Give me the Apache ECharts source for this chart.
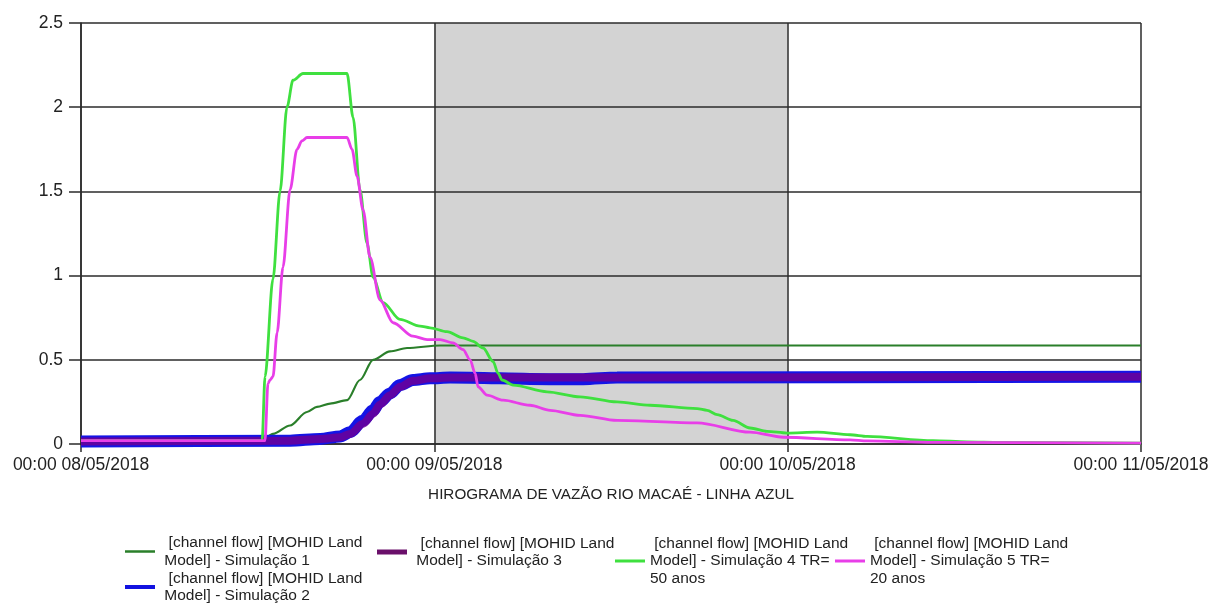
<!DOCTYPE html>
<html>
<head>
<meta charset="utf-8">
<title>Hirograma de vazão - Rio Macaé</title>
<script src="https://cdn.jsdelivr.net/npm/echarts@6/dist/echarts.min.js"></script>
<style>
  html, body { margin: 0; padding: 0; background: #ffffff; }
  #chart { width: 1213px; height: 605px; }
</style>
</head>
<body>
<div id="chart"></div>
<script>
// Time is counted in hours from 00:00 08/05/2018; flow values per simulation.
const dayTickLabels = ['00:00 08/05/2018', '00:00 09/05/2018', '00:00 10/05/2018', '00:00 11/05/2018'];
const axisTitle = 'HIROGRAMA DE VAZÃO RIO MACAÉ - LINHA AZUL';

const seriesNames = [
  '[channel flow] [MOHID Land Model] - Simulação 1',
  '[channel flow] [MOHID Land Model] - Simulação 2',
  '[channel flow] [MOHID Land Model] - Simulação 3',
  '[channel flow] [MOHID Land Model] - Simulação 4 TR= 50 anos',
  '[channel flow] [MOHID Land Model] - Simulação 5 TR= 20 anos'
];
const legendLabels = [
  '  [channel flow] [MOHID Land\n Model] - Simulação 1',
  '  [channel flow] [MOHID Land\n Model] - Simulação 2',
  '  [channel flow] [MOHID Land\n Model] - Simulação 3',
  ' [channel flow] [MOHID Land\nModel] - Simulação 4 TR=\n50 anos',
  ' [channel flow] [MOHID Land\nModel] - Simulação 5 TR=\n20 anos'
];

// Simulação 1
const sim1Hours = [0, 12.3, 13.04, 14.2, 15.35, 16.03, 16.92, 18.07, 18.95, 19.84, 20.99, 22.15, 24.39, 72];
const sim1Flow  = [0.02, 0.02, 0.06, 0.11, 0.19, 0.22, 0.24, 0.26, 0.38, 0.50, 0.55, 0.57, 0.585, 0.585];

// Simulação 2
const sim2Hours = [0, 14.2, 16.24, 17.6, 18.27, 19.16, 19.84, 20.31, 20.99, 21.67, 22.55, 23.71, 25.07, 31.86, 34.1, 36.41, 72];
const sim2Flow  = [0.015, 0.02, 0.03, 0.045, 0.07, 0.14, 0.20, 0.25, 0.30, 0.35, 0.38, 0.39, 0.395, 0.385, 0.385, 0.395, 0.40];

// Simulação 3
const sim3Hours = [0, 14.2, 16.24, 17.6, 18.27, 19.16, 19.84, 20.31, 20.99, 21.67, 22.55, 23.71, 25.07, 31.86, 34.1, 36.41, 72];
const sim3Flow  = [0.015, 0.02, 0.03, 0.04, 0.06, 0.12, 0.18, 0.235, 0.29, 0.34, 0.375, 0.39, 0.395, 0.395, 0.395, 0.395, 0.40];

// Simulação 4 TR = 50 anos
const sim4Hours = [0, 12.3, 12.5, 13.04, 13.52, 13.99, 14.4, 15.08, 18.07, 18.48, 18.95, 19.43, 19.84, 20.52, 21.67,
  23.03, 23.71, 24.86, 25.95, 26.63, 27.31, 27.99, 28.33, 28.6, 29.35, 31.66, 33.9, 36.41, 38.65, 41.85,
  42.53, 43.21, 44.29, 45.45, 46.6, 47.96, 50.0, 52.24, 53.4, 57.88, 60.19, 62.43, 72];
const sim4Flow  = [0.02, 0.02, 0.40, 0.98, 1.50, 2.0, 2.16, 2.2, 2.2, 1.94, 1.51, 1.19, 0.99, 0.84, 0.74,
  0.70, 0.69, 0.667, 0.63, 0.61, 0.57, 0.49, 0.42, 0.38, 0.35, 0.31, 0.28, 0.25, 0.23, 0.21,
  0.20, 0.175, 0.14, 0.095, 0.075, 0.065, 0.07, 0.055, 0.045, 0.02, 0.013, 0.01, 0.005];

// Simulação 5 TR = 20 anos
const sim5Hours = [0, 12.5, 12.7, 12.84, 13.04, 13.32, 13.72, 14.2, 14.67, 15.01, 15.35, 18.07, 18.41, 18.75, 19.16,
  19.63, 20.31, 21.2, 22.55, 23.51, 24.39, 25.27, 25.95, 26.43, 26.77, 26.97, 27.58, 28.67, 30.5, 31.86,
  33.9, 36.41, 41.85, 45.45, 47.69, 52.24, 53.4, 57.88, 72];
const sim5Flow  = [0.02, 0.02, 0.36, 0.38, 0.40, 0.66, 1.05, 1.51, 1.75, 1.80, 1.82, 1.82, 1.75, 1.59, 1.39,
  1.11, 0.855, 0.72, 0.64, 0.62, 0.62, 0.60, 0.56, 0.50, 0.42, 0.34, 0.29, 0.26, 0.23, 0.20,
  0.17, 0.14, 0.125, 0.07, 0.04, 0.025, 0.018, 0.01, 0.005];

const pair = (hours, flow) => hours.map((h, i) => [h, flow[i]]);

const FONT = '"Liberation Sans", Arial, sans-serif';
const TEXT = '#222222';
const GRIDLINE = '#2b2b2b';

const colors = ['#2a7f2a', '#1414e6', 'rgba(108,0,150,0.85)', '#3fe03f', '#e83ee8'];
const legendColors = ['#2a7f2a', '#1212e0', '#6a106a', '#3fe03f', '#e83ee8'];
const lineWidths = [2.2, 12, 8, 2.8, 2.8];
const legendThickness = [2.5, 4, 5, 3, 3];
const legendPos = [[125, 534], [125, 569.5], [377, 534.5], [615, 534.75], [835, 534.75]];

const datasets = [
  pair(sim1Hours, sim1Flow),
  pair(sim2Hours, sim2Flow),
  pair(sim3Hours, sim3Flow),
  pair(sim4Hours, sim4Flow),
  pair(sim5Hours, sim5Flow)
];

const series = datasets.map((d, i) => ({
  name: seriesNames[i],
  type: 'line',
  data: d,
  symbol: 'none',
  smooth: 0.3,
  smoothMonotone: 'x',
  color: colors[i],
  lineStyle: { color: colors[i], width: lineWidths[i] },
  emphasis: { disabled: true },
  animation: false
}));

// Shaded day (09/05 -> 10/05)
series[0].markArea = {
  silent: true,
  itemStyle: { color: '#d3d3d3', opacity: 1 },
  data: [[{ xAxis: 24 }, { xAxis: 48 }]]
};

const legends = seriesNames.map((name, i) => ({
  data: [{ name: name, icon: 'rect', itemStyle: { color: legendColors[i] } }],
  left: legendPos[i][0],
  top: legendPos[i][1],
  padding: 0,
  itemWidth: 30,
  itemHeight: legendThickness[i],
  selectedMode: false,
  formatter: () => legendLabels[i],
  textStyle: { fontFamily: FONT, fontSize: 15.5, lineHeight: 17.5, color: TEXT }
}));

const chart = echarts.init(document.getElementById('chart'), null, { renderer: 'canvas' });
chart.setOption({
  backgroundColor: '#ffffff',
  animation: false,
  grid: { left: 81, right: 72, top: 23, bottom: 161, containLabel: false },
  legend: legends,
  xAxis: {
    type: 'value',
    min: 0,
    max: 72,
    interval: 24,
    z: 1.5,
    name: axisTitle,
    nameLocation: 'middle',
    nameGap: 43,
    nameTextStyle: { fontFamily: FONT, fontSize: 15.25, color: TEXT },
    axisLine: { show: true, onZero: false, lineStyle: { color: GRIDLINE, width: 1.5 } },
    axisTick: { show: true, length: 8, lineStyle: { color: GRIDLINE, width: 1.5 } },
    axisLabel: {
      margin: 12,
      fontFamily: FONT,
      fontSize: 17.5,
      color: TEXT,
      formatter: v => dayTickLabels[Math.round(v / 24)]
    },
    splitLine: { show: true, lineStyle: { color: GRIDLINE, width: 1.5 } }
  },
  yAxis: {
    type: 'value',
    min: 0,
    max: 2.5,
    interval: 0.5,
    z: 1.5,
    axisLine: { show: true, lineStyle: { color: GRIDLINE, width: 1.5 } },
    axisTick: { show: true, length: 12, lineStyle: { color: GRIDLINE, width: 1.5 } },
    axisLabel: { margin: 18, fontFamily: FONT, fontSize: 17.5, color: TEXT },
    splitLine: { show: true, lineStyle: { color: GRIDLINE, width: 1.5 } }
  },
  series: series
});
</script>
</body>
</html>
